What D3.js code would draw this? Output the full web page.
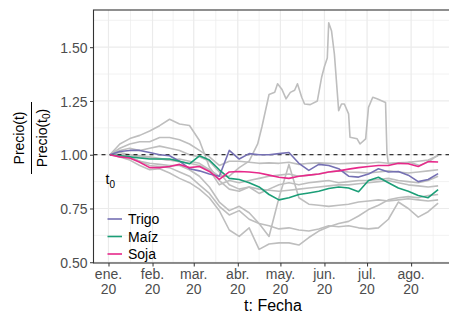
<!DOCTYPE html>
<html><head><meta charset="utf-8">
<script src="https://cdn.jsdelivr.net/npm/d3@7"></script>
<style>html,body{margin:0;padding:0;background:#fff;overflow:hidden}svg{display:block;font-family:"Liberation Sans",Arial,sans-serif}</style>
</head><body>
<script>
// ---- data ----
const dates = ["2020-01-02","2020-01-09","2020-01-16","2020-01-23","2020-01-30","2020-02-06","2020-02-13","2020-02-20","2020-02-27","2020-03-05","2020-03-12","2020-03-19","2020-03-26","2020-04-02","2020-04-09","2020-04-16","2020-04-23","2020-04-30","2020-05-07","2020-05-14","2020-05-21","2020-05-28","2020-06-04","2020-06-11","2020-06-18","2020-06-25","2020-07-02","2020-07-09","2020-07-16","2020-07-23","2020-07-30","2020-08-06","2020-08-13","2020-08-20"];
const trigo = [1.00,1.015,1.02,1.02,1.01,1.00,0.995,0.97,0.935,0.925,0.91,0.90,1.02,0.98,1.005,1.00,1.00,1.005,1.01,0.96,0.927,0.955,0.95,0.935,0.90,0.896,0.91,0.935,0.92,0.922,0.905,0.875,0.885,0.912];
const maiz = [1.00,0.995,0.99,0.985,0.98,0.98,0.98,0.97,0.958,0.995,0.975,0.93,0.89,0.885,0.87,0.85,0.815,0.79,0.80,0.815,0.822,0.83,0.843,0.85,0.845,0.828,0.88,0.895,0.87,0.845,0.83,0.81,0.80,0.838];
const soja = [1.00,0.99,0.985,0.965,0.94,0.94,0.945,0.955,0.94,0.945,0.922,0.885,0.92,0.922,0.92,0.915,0.905,0.895,0.89,0.90,0.905,0.91,0.92,0.925,0.933,0.94,0.945,0.95,0.95,0.96,0.958,0.945,0.968,0.966];
const otro2 = [1.00,1.03,1.05,1.06,1.06,1.08,1.08,1.07,1.05,1.02,0.99,0.95,0.97,0.97,0.965,0.96,0.962,0.96,0.965,0.955,0.96,0.962,0.96,0.958,0.96,0.962,0.96,0.965,0.96,0.962,0.965,0.97,0.975,0.995];
const otro3 = [1.00,1.05,1.075,1.09,1.11,1.135,1.165,1.143,1.136,1.066,0.943,0.88,0.84,0.83,0.85,0.82,0.84,0.86,0.87,0.86,0.87,0.875,0.88,0.87,0.875,0.88,0.88,0.885,0.89,0.88,0.875,0.87,0.88,0.90];
const otro4 = [1.00,1.01,1.00,0.99,0.985,0.98,0.975,0.98,0.97,0.96,0.93,0.86,0.88,0.87,0.88,0.89,0.90,0.905,0.91,0.90,0.905,0.91,0.92,0.925,0.92,0.918,0.915,0.92,0.925,0.92,0.915,0.92,0.925,0.93];
const otro5 = [1.00,0.99,0.975,0.95,0.93,0.935,0.915,0.89,0.87,0.84,0.80,0.74,0.65,0.62,0.66,0.56,0.585,0.59,0.59,0.58,0.615,0.645,0.665,0.68,0.69,0.715,0.745,0.765,0.79,0.80,0.805,0.80,0.81,0.815];
const otro6 = [1.00,0.995,0.985,0.97,0.95,0.945,0.94,0.92,0.90,0.86,0.82,0.76,0.72,0.74,0.70,0.68,0.67,0.655,0.66,0.65,0.645,0.655,0.67,0.665,0.67,0.66,0.655,0.66,0.70,0.78,0.75,0.71,0.735,0.775];
const otro7 = [1.00,1.00,0.99,0.97,0.96,0.955,0.95,0.95,0.93,0.90,0.85,0.78,0.74,0.76,0.73,0.68,0.62,0.80,0.955,0.80,0.77,0.765,0.76,0.765,0.77,0.78,0.785,0.79,0.785,0.79,0.795,0.79,0.785,0.79];
const otro8 = [1.00,1.02,1.03,1.02,1.03,1.04,1.03,1.02,1.00,0.99,0.97,0.92,0.86,0.84,0.85,0.84,0.835,0.83,0.835,0.84,0.845,0.85,0.855,0.86,0.86,0.865,0.87,0.875,0.88,0.87,0.86,0.855,0.85,0.855];
// volatile series with its own dates
const picoDates = ["2020-01-02","2020-01-16","2020-01-30","2020-02-13","2020-02-27","2020-03-05","2020-03-12","2020-03-19","2020-03-26","2020-04-02","2020-04-09","2020-04-15","2020-04-18","2020-04-23","2020-04-27","2020-04-29","2020-05-02","2020-05-05","2020-05-08","2020-05-11","2020-05-13","2020-05-16","2020-05-18","2020-05-22","2020-05-27","2020-05-30","2020-06-01","2020-06-03","2020-06-04","2020-06-06","2020-06-08","2020-06-11","2020-06-13","2020-06-15","2020-06-18","2020-06-19","2020-06-24","2020-06-26","2020-06-30","2020-07-02","2020-07-05","2020-07-08","2020-07-14","2020-07-15","2020-07-16","2020-07-24","2020-07-31","2020-08-07","2020-08-14","2020-08-20"];
const pico = [1.00,1.00,0.99,0.975,0.96,0.95,0.93,0.90,0.90,0.94,0.97,1.05,1.13,1.28,1.29,1.33,1.305,1.26,1.29,1.30,1.33,1.267,1.236,1.233,1.25,1.36,1.41,1.45,1.614,1.575,1.468,1.205,1.236,1.236,1.19,1.081,1.074,1.05,1.074,1.22,1.267,1.26,1.243,1.005,0.958,0.96,0.965,0.95,0.97,1.0];
const monthTicks = ["2020-01-01","2020-02-01","2020-03-01","2020-04-01","2020-05-01","2020-06-01","2020-07-01","2020-08-01"];
const monthLabels = ["ene.","feb.","mar.","abr.","may.","jun.","jul.","ago."];
const yTicks = [0.50,0.75,1.00,1.25,1.50];
const seriesNames = ["Trigo","Maíz","Soja"];
const seriesColors = ["#7570B3","#1B9E77","#E7298A"];

// ---- layout ----
const W = 449, H = 314;
const L = 93.5, T = 10, B = 263;
const parse = d3.timeParse("%Y-%m-%d");
const d0 = parse(dates[0]), d1 = parse(dates[dates.length-1]);
const span = d1 - d0;
const pxPerMs = 1.4208 / 86400000;
const R = L + 1.1 * span * pxPerMs;
const x = d3.scaleTime().domain([new Date(+d0 - 0.05*span), new Date(+d1 + 0.05*span)]).range([L, R]);
const y = d3.scaleLinear().domain([0.4965, 1.673]).range([B, T]);

const svg = d3.select("body").append("svg").attr("width", W).attr("height", H);
svg.append("defs").append("clipPath").attr("id","clip").append("rect")
  .attr("x", L).attr("y", T).attr("width", R - L).attr("height", B - T);

const grid = svg.append("g");
const mt = monthTicks.map(parse);
const minorX = [];
for (let i = 0; i < mt.length - 1; i++) minorX.push(new Date((+mt[i] + +mt[i+1]) / 2));
minorX.push(new Date((+mt[mt.length-1] + +parse("2020-09-01")) / 2));
grid.selectAll(".mx").data(minorX).enter().append("line")
  .attr("x1", d => x(d)).attr("x2", d => x(d)).attr("y1", T).attr("y2", B)
  .attr("stroke", "#ececec").attr("stroke-width", 0.7);
const minorY = [0.625, 0.875, 1.125, 1.375, 1.625];
grid.selectAll(".my").data(minorY).enter().append("line")
  .attr("x1", L).attr("x2", R).attr("y1", d => y(d)).attr("y2", d => y(d))
  .attr("stroke", "#ececec").attr("stroke-width", 0.7);
grid.selectAll(".Mx").data(mt).enter().append("line")
  .attr("x1", d => x(d)).attr("x2", d => x(d)).attr("y1", T).attr("y2", B)
  .attr("stroke", "#ebebeb").attr("stroke-width", 1.2);
grid.selectAll(".My").data(yTicks).enter().append("line")
  .attr("x1", L).attr("x2", R).attr("y1", d => y(d)).attr("y2", d => y(d))
  .attr("stroke", "#ebebeb").attr("stroke-width", 1.2);

const line = d3.line().x(d => x(d[0])).y(d => y(d[1]));
const plot = svg.append("g").attr("clip-path", "url(#clip)");
const wk = dates.map(parse);
const grays = [otro2, otro3, otro4, otro5, otro6, otro7, otro8];
grays.forEach(s => {
  plot.append("path").attr("d", line(wk.map((d, i) => [d, s[i]])))
    .attr("fill", "none").attr("stroke", "#bebebe").attr("stroke-width", 1.6).attr("stroke-linejoin","round");
});
plot.append("path").attr("d", line(picoDates.map((d, i) => [parse(d), pico[i]])))
  .attr("fill", "none").attr("stroke", "#bebebe").attr("stroke-width", 1.6).attr("stroke-linejoin","round");

plot.append("line").attr("x1", L).attr("x2", R).attr("y1", y(1)).attr("y2", y(1))
  .attr("stroke", "#000").attr("stroke-width", 1).attr("stroke-dasharray", "4,4");

[trigo, maiz, soja].forEach((s, k) => {
  plot.append("path").attr("d", line(wk.map((d, i) => [d, s[i]])))
    .attr("fill", "none").attr("stroke", seriesColors[k]).attr("stroke-width", 1.6).attr("stroke-linejoin","round");
});

svg.append("rect").attr("x", L).attr("y", T).attr("width", R - L).attr("height", B - T)
  .attr("fill", "none").attr("stroke", "#333").attr("stroke-width", 1.1);

const ya = svg.append("g").attr("transform", `translate(${L},0)`)
  .call(d3.axisLeft(y).tickValues(yTicks).tickFormat(d3.format(".2f")).tickSize(3.5).tickPadding(2.5));
ya.select(".domain").remove();
ya.selectAll("line").attr("stroke", "#333");
ya.selectAll("text").attr("fill", "#4d4d4d").style("font-size", "14px").attr("dy", "0.36em");

const xa = svg.append("g").attr("transform", `translate(0,${B})`)
  .call(d3.axisBottom(x).tickValues(mt).tickFormat("").tickSize(3.5));
xa.select(".domain").remove();
xa.selectAll("line").attr("stroke", "#333");
const xl = svg.append("g");
mt.forEach((d, i) => {
  const t = xl.append("text").attr("x", x(d)).attr("text-anchor", "middle")
    .attr("fill", "#4d4d4d").style("font-size", "14px");
  t.append("tspan").attr("x", x(d)).attr("y", 279).text(monthLabels[i]);
  t.append("tspan").attr("x", x(d)).attr("y", 293.5).text("20");
});

svg.append("text").attr("x", (L + R) / 2 - 1).attr("y", 311).attr("text-anchor", "middle")
  .style("font-size", "16px").attr("fill", "#000").text("t: Fecha");
const yt = svg.append("g").attr("transform", "translate(0,138) rotate(-90)");
yt.append("text").attr("x", 0).attr("y", 23.5).attr("text-anchor", "middle")
  .style("font-size", "14px").attr("fill", "#000").text("Precio(t)");
yt.append("line").attr("x1", -36).attr("x2", 36).attr("y1", 31.5).attr("y2", 31.5)
  .attr("stroke", "#000").attr("stroke-width", 1);
const den = yt.append("text").attr("x", 0).attr("y", 46.5).attr("text-anchor", "middle")
  .style("font-size", "14px").attr("fill", "#000");
den.append("tspan").text("Precio(t");
den.append("tspan").attr("dy", 3.5).style("font-size", "10px").text("0");
den.append("tspan").attr("dy", -3.5).text(")");

const t0 = svg.append("text").attr("x", 105.5).attr("y", 184).style("font-size", "14px").attr("fill", "#000");
t0.append("tspan").text("t");
t0.append("tspan").attr("dy", 3.5).style("font-size", "10px").text("0");

const lg = svg.append("g");
seriesNames.forEach((n, i) => {
  const yy = 219 + i * 17.5;
  lg.append("line").attr("x1", 107.5).attr("x2", 122).attr("y1", yy).attr("y2", yy)
    .attr("stroke", seriesColors[i]).attr("stroke-width", 1.6);
  lg.append("text").attr("x", 128).attr("y", yy + 5).style("font-size", "14px").attr("fill", "#000").text(n);
});
</script>
</body></html>
